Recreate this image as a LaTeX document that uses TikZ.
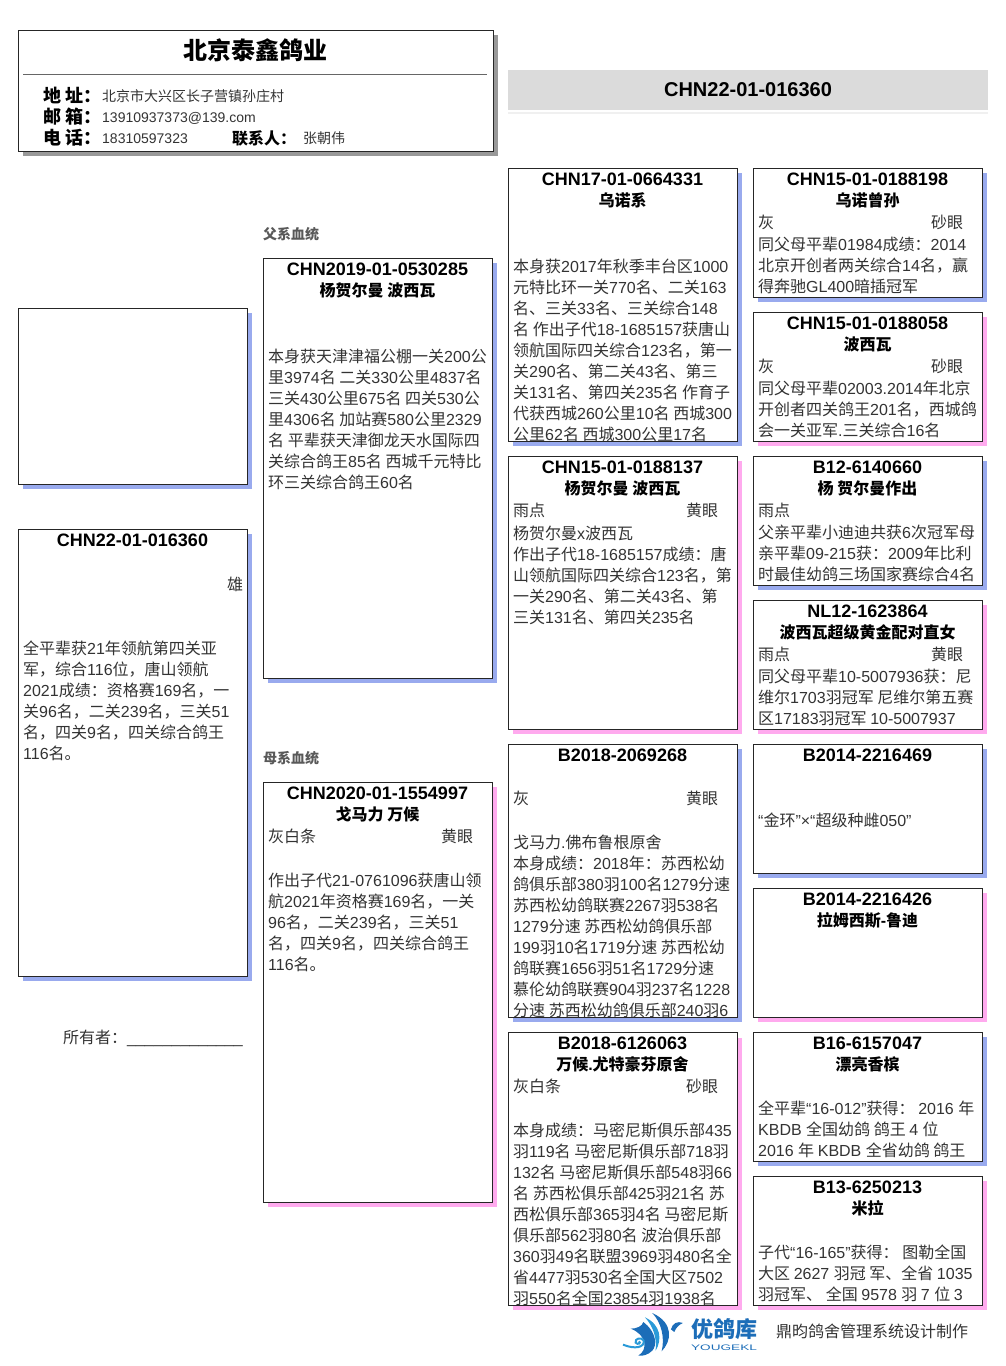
\documentclass[tikz,border=0pt]{standalone}
\usepackage{fontspec}
\setmainfont{Liberation Sans}
\newfontfamily\cjkfont[NFSSFamily=cjkfam]{Noto Sans CJK SC}
% chinese runs get their own font
\newXeTeXintercharclass\cjkclass
\newcount\cjkcode
\newcommand{\cjkrange}[2]{\cjkcode=#1\relax
	\loop\XeTeXcharclass\cjkcode=\cjkclass
	\ifnum\cjkcode<#2\advance\cjkcode by 1\repeat}
\cjkrange{"4E00}{"9FFF}
\cjkrange{"3000}{"303F}
\cjkrange{"FF00}{"FFEF}
\newcommand{\tocjk}{\fontfamily{cjkfam}\selectfont}
\newcommand{\tolatin}{\fontfamily{\rmdefault}\selectfont}
\XeTeXinterchartokenstate=1
\XeTeXinterchartoks 0 \cjkclass={\tocjk}
\XeTeXinterchartoks 4095 \cjkclass={\tocjk}
\XeTeXinterchartoks \cjkclass 0 ={\tolatin}
\XeTeXinterchartoks 4095 0 ={\tolatin}
\definecolor{sireblue}{HTML}{99AAEE}
\definecolor{damepink}{HTML}{FFAAEE}
\definecolor{bodygray}{HTML}{333333}
\definecolor{logoblue}{HTML}{1C6DB8}
\definecolor{logolight}{HTML}{2A9AD8}
\tikzset{
	framebox/.style = {draw = black!85, line width = 1pt, fill = white, anchor = north west, inner sep = 0pt, outer sep = 0pt},
	shadebox/.style = {anchor = north west, inner sep = 0pt, outer sep = 0pt, xshift = 5pt, yshift = -5pt},
	linetext/.style = {inner sep = 0pt, text height = 12pt, text depth = 0pt},
	ringtext/.style = {linetext, font = \fontsize{18}{21}\selectfont\bfseries},
	straintext/.style = {linetext, font = \fontsize{16}{21}\selectfont\bfseries},
	plaintext/.style = {linetext, text = bodygray, font = \fontsize{16}{21}\selectfont},
	smalltext/.style = {linetext, anchor = west, text = bodygray, font = \fontsize{14}{21}\selectfont},
	labeltext/.style = {linetext, anchor = west, font = \fontsize{18}{21}\selectfont\bfseries},
	grouptext/.style = {linetext, anchor = west, text = black!65, font = \fontsize{14}{21}\selectfont\bfseries},
	bodytext/.style = {anchor = north west, inner sep = 0pt, align = left, text = bodygray, font = \fontsize{16}{21}\selectfont}
}
% box, ring, strain, plumage, eye, race record
\newcommand{\birdbox}[4]{\node[shadebox, fill = #4, minimum width = 229pt, minimum height = #3pt] (#1shade) at (#2) {};
	\node[framebox, minimum width = 229pt, minimum height = #3pt] (#1) at (#2) {};}
\newcommand{\birdring}[2]{\node[ringtext] (#1ring) at ([yshift = -11pt]#1.north) {#2};}
\newcommand{\birdstrain}[2]{\node[straintext] (#1strain) at ([yshift = -32pt]#1.north) {#2};}
\newcommand{\birdcoat}[3]{\node[plaintext, anchor = west] (#1coat) at ([xshift = 5pt, yshift = -54pt]#1.north west) {#2};
	\node[plaintext, anchor = west] (#1eye) at ([xshift = 178pt, yshift = -54pt]#1.north west) {#3};}
\newcommand{\birdnotes}[3]{\node[bodytext] (#1notes) at ([xshift = 5pt, yshift = -#2pt - 1pt]#1.north west) {\strut #3};}
\begin{document}
\begin{tikzpicture}[x = 1pt, y = -1pt]
	\useasboundingbox (0, 0) rectangle (1006, 1366);
	% loft header
	\node[shadebox, fill = black!40, minimum width = 475pt, minimum height = 121pt] (loftshade) at (18, 30) {};
	\node[framebox, minimum width = 475pt, minimum height = 121pt] (loft) at (18, 30) {};
	\node[linetext, font = \fontsize{24}{28}\selectfont\bfseries] (lofttitle) at (255.5, 53) {北京泰鑫鸽业};
	\coordinate (ruleleft) at (23, 74);
	\coordinate (ruleright) at (487, 74);
	\draw[black!60] (ruleleft) -- (ruleright);
	\node[labeltext] (addrkey) at (43, 96) {地 址：};
	\node[labeltext] (mailkey) at (43, 117) {邮 箱：};
	\node[labeltext] (telkey) at (43, 138) {电 话：};
	\node[smalltext] (addr) at (102, 95.5) {北京市大兴区长子营镇孙庄村};
	\node[smalltext] (mail) at (102, 116) {13910937373@139.com};
	\node[smalltext] (tel) at (102, 137) {18310597323};
	\node[labeltext, font = \fontsize{16}{21}\selectfont\bfseries] (contactkey) at (232, 138) {联系人：};
	\node[smalltext] (contact) at (303, 137.5) {张朝伟};
	% ring band
	\node[anchor = north west, fill = black!6, minimum width = 480pt, minimum height = 2.5pt, inner sep = 0pt] (bandline) at (508, 111.7) {};
	\node[anchor = north west, fill = black!14, minimum width = 480pt, minimum height = 40pt, inner sep = 0pt] (band) at (508, 70) {};
	\node[linetext, font = \fontsize{20}{24}\selectfont\bfseries] (bandring) at (748, 90.5) {CHN22-01-016360};
	% first column
	\birdbox{photo}{18, 308}{176}{sireblue}
	\birdbox{self}{18, 529}{447}{sireblue}
	\birdring{self}{CHN22-01-016360}
	\node[plaintext, anchor = west] (selfsex) at ([xshift = 209pt, yshift = -55pt]self.north west) {雄};
	\birdnotes{self}{110}{全平辈获21年领航第四关亚\\军，综合116位，唐山领航\\2021成绩：资格赛169名，一\\关96名，二关239名，三关51\\名，四关9名，四关综合鸽王\\116名。}
	\node[plaintext, anchor = west] (owner) at (63, 1037) {所有者：\_\_\_\_\_\_\_\_\_\_\_\_\_};
	% parents
	\node[grouptext] (sireline) at (263, 233) {父系血统};
	\node[grouptext] (dameline) at (263, 757) {母系血统};
	\birdbox{sire}{263, 258}{420}{sireblue}
	\birdring{sire}{CHN2019-01-0530285}
	\birdstrain{sire}{杨贺尔曼 波西瓦}
	\birdnotes{sire}{89}{本身获天津津福公棚一关200公\\里3974名 二关330公里4837名\\三关430公里675名 四关530公\\里4306名 加站赛580公里2329\\名 平辈获天津御龙天水国际四\\关综合鸽王85名 西城千元特比\\环三关综合鸽王60名}
	\birdbox{dame}{263, 782}{420}{damepink}
	\birdring{dame}{CHN2020-01-1554997}
	\birdstrain{dame}{戈马力 万候}
	\birdcoat{dame}{灰白条}{黄眼}
	\birdnotes{dame}{89}{作出子代21-0761096获唐山领\\航2021年资格赛169名，一关\\96名，二关239名，三关51\\名，四关9名，四关综合鸽王\\116名。}
	% grandparents
	\birdbox{gsa}{508, 168}{273}{sireblue}
	\birdring{gsa}{CHN17-01-0664331}
	\birdstrain{gsa}{乌诺系}
	\birdnotes{gsa}{89}{本身获2017年秋季丰台区1000\\元特比环一关770名、二关163\\名、三关33名、三关综合148\\名 作出子代18-1685157获唐山\\领航国际四关综合123名，第一\\关290名、第二关43名、第三\\关131名、第四关235名 作育子\\代获西城260公里10名 西城300\\公里62名 西城300公里17名}
	\birdbox{gsb}{508, 456}{273}{damepink}
	\birdring{gsb}{CHN15-01-0188137}
	\birdstrain{gsb}{杨贺尔曼 波西瓦}
	\birdcoat{gsb}{雨点}{黄眼}
	\birdnotes{gsb}{68}{杨贺尔曼x波西瓦\\作出子代18-1685157成绩：唐\\山领航国际四关综合123名，第\\一关290名、第二关43名、第\\三关131名、第四关235名}
	\birdbox{gda}{508, 744}{273}{sireblue}
	\birdring{gda}{B2018-2069268}
	\birdcoat{gda}{灰}{黄眼}
	\birdnotes{gda}{89}{戈马力.佛布鲁根原舍\\本身成绩：2018年：苏西松幼\\鸽俱乐部380羽100名1279分速\\苏西松幼鸽联赛2267羽538名\\1279分速 苏西松幼鸽俱乐部\\199羽10名1719分速 苏西松幼\\鸽联赛1656羽51名1729分速\\慕伦幼鸽联赛904羽237名1228\\分速 苏西松幼鸽俱乐部240羽6}
	\birdbox{gdb}{508, 1032.5}{272.5}{damepink}
	\birdring{gdb}{B2018-6126063}
	\birdstrain{gdb}{万候.尤特豪芬原舍}
	\birdcoat{gdb}{灰白条}{砂眼}
	\birdnotes{gdb}{88}{本身成绩：马密尼斯俱乐部435\\羽119名 马密尼斯俱乐部718羽\\132名 马密尼斯俱乐部548羽66\\名 苏西松俱乐部425羽21名 苏\\西松俱乐部365羽4名 马密尼斯\\俱乐部562羽80名 波治俱乐部\\360羽49名联盟3969羽480名全\\省4477羽530名全国大区7502\\羽550名全国23854羽1938名}
	% great grandparents
	\birdbox{ggsa}{753, 168}{129}{sireblue}
	\birdring{ggsa}{CHN15-01-0188198}
	\birdstrain{ggsa}{乌诺曾孙}
	\birdcoat{ggsa}{灰}{砂眼}
	\birdnotes{ggsa}{67}{同父母平辈01984成绩：2014\\北京开创者两关综合14名，赢\\得奔驰GL400暗插冠军}
	\birdbox{ggda}{753, 312}{129}{damepink}
	\birdring{ggda}{CHN15-01-0188058}
	\birdstrain{ggda}{波西瓦}
	\birdcoat{ggda}{灰}{砂眼}
	\birdnotes{ggda}{67}{同父母平辈02003.2014年北京\\开创者四关鸽王201名，西城鸽\\会一关亚军.三关综合16名}
	\birdbox{ggsb}{753, 456}{129}{sireblue}
	\birdring{ggsb}{B12-6140660}
	\birdstrain{ggsb}{杨 贺尔曼作出}
	\node[plaintext, anchor = west] (ggsbcoat) at ([xshift = 5pt, yshift = -54pt]ggsb.north west) {雨点};
	\birdnotes{ggsb}{67}{父亲平辈小迪迪共获6次冠军母\\亲平辈09-215获：2009年比利\\时最佳幼鸽三场国家赛综合4名}
	\birdbox{ggdb}{753, 600}{129}{damepink}
	\birdring{ggdb}{NL12-1623864}
	\birdstrain{ggdb}{波西瓦超级黄金配对直女}
	\birdcoat{ggdb}{雨点}{黄眼}
	\birdnotes{ggdb}{67}{同父母平辈10-5007936获：尼\\维尔1703羽冠军 尼维尔第五赛\\区17183羽冠军 10-5007937}
	\birdbox{ggsc}{753, 744}{129}{sireblue}
	\birdring{ggsc}{B2014-2216469}
	\birdnotes{ggsc}{67}{“金环”×“超级种雌050”}
	\birdbox{ggdc}{753, 888}{129}{damepink}
	\birdring{ggdc}{B2014-2216426}
	\birdstrain{ggdc}{拉姆西斯-鲁迪}
	\birdbox{ggsd}{753, 1032}{129}{sireblue}
	\birdring{ggsd}{B16-6157047}
	\birdstrain{ggsd}{漂亮香槟}
	\birdnotes{ggsd}{67}{全平辈“16-012”获得：  2016 年\\KBDB 全国幼鸽 鸽王 4 位\\2016 年 KBDB 全省幼鸽 鸽王}
	\birdbox{ggdd}{753, 1176}{129}{damepink}
	\birdring{ggdd}{B13-6250213}
	\birdstrain{ggdd}{米拉}
	\birdnotes{ggdd}{67}{子代“16-165”获得：  图勒全国\\大区 2627 羽冠 军、全省 1035\\羽冠军、 全国 9578 羽 7 位 3}
	% logo
	\begin{scope}[shift = {(615, 1308)}, x = 0.333pt, y = -0.333pt]
		\fill[logoblue] (112, 15) .. controls (178, 45) and (170, 100) .. (140, 130) .. controls (150, 90) and (140, 45) .. (112, 15);
		\fill[logolight] (90, 28) .. controls (138, 50) and (142, 95) .. (122, 128) .. controls (126, 90) and (115, 55) .. (90, 28);
		\fill[logoblue] (47, 62) .. controls (65, 62) and (82, 55) .. (85, 42) .. controls (128, 75) and (125, 115) .. (112, 128) .. controls (100, 140) and (85, 145) .. (70, 143) .. controls (100, 125) and (95, 80) .. (47, 62);
		\fill[logoblue] (168, 64) .. controls (172, 46) and (188, 38) .. (204, 45) .. controls (192, 50) and (184, 58) .. (178, 72) -- cycle;
		\draw[logolight, line width = 2pt] (72, 100) .. controls (80, 105) and (68, 112) .. (62, 104) .. controls (58, 92) and (80, 85) .. (86, 98) .. controls (90, 118) and (60, 125) .. (24, 110);
	\end{scope}
	\node[linetext, text = logoblue, font = \fontsize{22}{24}\selectfont\bfseries] (logoname) at (724, 1331) {优鸽库};
	\node[linetext, text height = 6pt, text = logoblue, font = \fontsize{8}{8}\selectfont, xscale = 1.7, transform shape] (logolatin) at (724, 1347) {YOUGEKL};
	\node[plaintext, anchor = west] (maker) at (776, 1331) {鼎昀鸽舍管理系统设计制作};
\end{tikzpicture}
\end{document}
